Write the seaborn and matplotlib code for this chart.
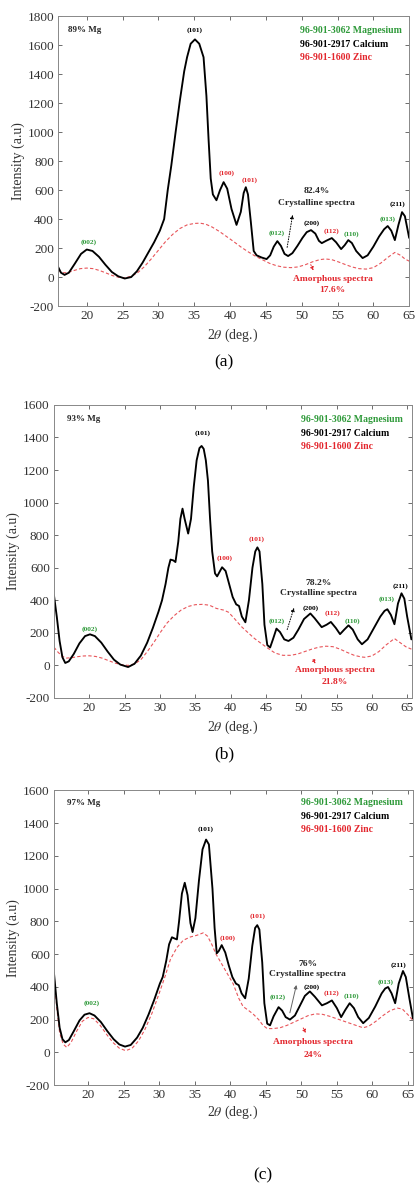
import pandas as pd
import seaborn as sns
import matplotlib.pyplot as plt

# ---------------- panel (a) 89% Mg ----------------
a_x = [16.0, 16.4, 16.9, 17.5, 18.3, 19.2, 20.0, 20.8, 21.7, 22.6, 23.5, 24.4, 25.3, 26.2, 27.0,
       27.8, 28.6, 29.4, 30.2, 30.8, 31.3, 31.8, 32.4, 33.0, 33.6, 34.0, 34.5, 35.1, 35.7, 36.3,
       36.7, 37.0, 37.3, 37.6, 38.1, 38.6, 39.1, 39.6, 40.2, 40.9, 41.5, 41.9, 42.2, 42.5,
       42.9, 43.3, 43.7, 44.4, 45.1, 45.6, 46.1, 46.6, 47.1, 47.6, 48.1, 48.7, 49.4, 50.1, 50.7,
       51.3, 51.9, 52.4, 52.8, 53.4, 54.2, 54.8, 55.5, 56.0, 56.5, 57.0, 57.6, 58.5, 59.2, 60.0,
       60.8, 61.5, 62.0, 62.5, 63.0, 63.5, 64.0, 64.4, 64.8, 65.0]
a_cryst = [70, 30, 15, 30, 90, 160, 190, 180, 140, 85, 35, 5, -10, 0, 40,
           100, 170, 240, 320, 400, 600, 770, 1000, 1220, 1420, 1517, 1610, 1640, 1610, 1517,
           1250, 950, 680, 570, 530, 600, 655, 610, 470, 360, 450, 580, 620, 570,
           380, 180, 150, 135, 124, 150, 210, 248, 215, 160, 145, 165, 215, 270, 310,
           324, 300, 250, 234, 250, 269, 240, 193, 220, 255, 235, 180, 131, 150, 210,
           280, 330, 352, 320, 255, 360, 448, 420, 320, 270]
a_amx = [16.0, 16.6, 17.3, 18.2, 19.1, 20.0, 20.9, 21.8, 22.7, 23.6, 24.5, 25.3, 26.2, 27.1, 28.0,
         29.0, 30.0, 31.0, 32.0, 33.0, 34.0, 35.0, 35.8, 36.6, 37.5, 38.5, 39.5, 40.5, 41.5, 42.5,
         43.5, 44.5, 45.5, 46.5, 47.5, 48.5, 49.5, 50.5, 51.5, 52.5, 53.3, 54.2, 55.1, 56.0, 57.0,
         58.0, 59.0, 60.0, 61.0, 62.0, 63.0, 63.8, 64.4, 65.0]
a_amor = [48, 30, 30, 45, 58, 62, 58, 45, 28, 10, -2, -5, 5, 30, 70,
          125, 185, 245, 295, 335, 360, 370, 372, 365, 345, 315, 280, 245, 208, 175,
          145, 120, 95, 78, 68, 65, 70, 85, 105, 120, 125, 120, 105, 88, 70,
          58, 55, 65, 95, 135, 170, 150, 125, 110]

# ---------------- panel (b) 93% Mg ----------------
b_x = [15.0, 15.4, 15.8, 16.2, 16.6, 17.1, 17.8, 18.6, 19.4, 20.1, 20.8, 21.7, 22.6, 23.5, 24.4,
       25.5, 26.4, 27.3, 28.2, 29.0, 29.8, 30.3, 30.8, 31.2, 31.5, 31.9, 32.2, 32.6, 32.9, 33.2,
       33.5, 34.0, 34.4, 34.8, 35.2, 35.6, 35.9, 36.2, 36.5, 36.8, 37.1, 37.4, 37.8, 38.1, 38.8,
       39.3, 39.8, 40.3, 40.8, 41.2, 41.6, 42.1, 42.6, 43.1, 43.5, 43.8, 44.1, 44.5, 44.8, 45.2,
       45.6, 46.0, 46.5, 47.0, 47.6, 48.2, 48.9, 49.6, 50.4, 51.3, 51.9, 52.9, 53.6, 54.2, 54.9,
       55.5, 56.1, 56.7, 57.3, 58.0, 58.6, 59.4, 60.3, 61.2, 61.8, 62.2, 62.7, 63.2, 63.7, 64.2,
       64.6, 65.0, 65.6]
b_cryst = [431, 300, 150, 50, 15, 25, 70, 135, 180, 191, 180, 140, 85, 35, 5,
           -10, 10, 60, 140, 230, 330, 400, 500, 600, 650, 645, 635, 760, 900, 963,
           900, 810, 900, 1100, 1260, 1335, 1348, 1330, 1260, 1135, 900, 700, 565, 547, 603,
           580, 500, 420, 375, 365, 300, 265, 400, 600, 700, 725, 700, 500, 250, 125,
           110, 160, 226, 205, 160, 150, 170, 220, 285, 319, 290, 235, 250, 267, 230,
           192, 220, 246, 220, 160, 130, 160, 230, 300, 335, 345, 310, 253, 380, 443,
           410, 300, 160]
b_amx = [15.0, 15.6, 16.2, 16.8, 17.6, 18.4, 19.2, 20.0, 20.9, 21.8, 22.7, 23.6, 24.5, 25.5, 26.5,
         27.4, 28.3, 29.2, 30.1, 31.0, 32.0, 33.0, 34.0, 35.0, 36.0, 37.0, 38.0, 39.0, 39.7, 40.5,
         41.5, 42.5, 43.4, 44.3, 45.3, 46.3, 47.4, 48.5, 49.5, 50.5, 51.5, 52.5, 53.5, 54.5, 55.5,
         56.5, 57.5, 58.5, 59.0, 60.0, 61.0, 62.0, 63.2, 64.0, 64.8, 65.6]
b_amor = [112, 80, 55, 45, 48, 54, 58, 59, 55, 45, 30, 15, 5, 0, 10,
          40, 90, 145, 205, 260, 305, 340, 362, 373, 375, 370, 350, 340, 327, 290,
          240, 200, 165, 136, 105, 76, 62, 62, 70, 85, 100, 112, 118, 115, 100,
          80, 62, 52, 50, 58, 85, 125, 165, 140, 115, 100]

# ---------------- panel (c) 97% Mg ----------------
c_x = [15.2, 15.6, 16.0, 16.4, 16.8, 17.3, 18.0, 18.8, 19.5, 20.2, 20.9, 21.8, 22.7, 23.6, 24.4,
       25.2, 26.0, 26.9, 27.7, 28.5, 29.3, 30.1, 30.5, 31.0, 31.4, 31.8, 32.2, 32.5, 32.8, 33.2,
       33.6, 34.0, 34.4, 34.7, 35.1, 35.6, 36.1, 36.6, 37.0, 37.5, 37.8, 38.1, 38.4, 38.8, 39.3,
       39.8, 40.3, 40.8, 41.2, 41.6, 42.1, 42.6, 43.1, 43.5, 43.8, 44.1, 44.5, 44.8, 45.2, 45.6,
       46.1, 46.8, 47.3, 47.8, 48.4, 49.1, 49.8, 50.5, 51.2, 51.9, 52.9, 53.6, 54.3, 55.0, 55.6,
       56.2, 56.8, 57.4, 58.0, 58.7, 59.5, 60.4, 61.3, 61.8, 62.2, 62.7, 63.2, 63.7, 64.3, 64.7,
       65.2, 65.7]
c_cryst = [485, 300, 150, 80, 61, 75, 130, 195, 230, 239, 225, 185, 130, 80, 48,
           35, 45, 90, 150, 230, 320, 420, 460, 560, 660, 703, 695, 690, 800, 970,
           1036, 960, 790, 735, 820, 1050, 1240, 1300, 1270, 1000, 760, 605, 620, 655, 610,
           530, 460, 420, 410, 360, 330, 450, 650, 760, 777, 750, 550, 300, 175, 165,
           220, 276, 255, 215, 200, 225, 285, 345, 372, 340, 287, 300, 317, 270, 215,
           260, 300, 270, 215, 178, 210, 280, 360, 390, 399, 360, 300, 420, 497, 460,
           330, 207]
c_amx = [15.2, 15.6, 16.0, 16.5, 17.0, 17.6, 18.4, 19.2, 20.0, 20.8, 21.7, 22.6, 23.5, 24.4, 25.3,
         26.2, 27.1, 28.0, 29.0, 30.0, 30.8, 31.6, 32.5, 33.4, 34.4, 35.3, 36.2, 36.8, 37.4, 38.0,
         38.8, 39.6, 40.4, 41.2, 41.8, 42.6, 43.2, 44.0, 44.6, 45.2, 46.0, 47.0, 48.0, 49.0, 50.0,
         51.0, 52.0, 53.0, 54.0, 55.0, 56.0, 57.0, 58.0, 58.7, 59.5, 60.5, 61.5, 62.5, 63.5, 64.2,
         65.0, 65.7]
c_amor = [480, 270, 120, 50, 30, 60, 130, 190, 213, 205, 165, 110, 60, 25, 10,
          25, 70, 140, 240, 360, 460, 570, 640, 685, 705, 715, 730, 710, 660, 600,
          540, 480, 420, 330, 280, 255, 235, 200, 165, 145, 145, 150, 165, 185, 205,
          225, 235, 232, 220, 205, 190, 175, 160, 150, 160, 190, 225, 255, 270, 265,
          230, 195]

# reflection labels (same set in every panel)
hkl = ["(002)", "(101)", "(100)", "(101)", "(012)", "(200)", "(112)", "(110)", "(013)", "(211)"]
phase = ["Mg", "Ca", "Zn", "Zn", "Mg", "Ca", "Zn", "Mg", "Mg", "Ca"]
a_hx = [20.3, 35.0, 39.5, 42.7, 46.5, 51.4, 54.2, 56.9, 62.0, 63.4]
a_hy = [241, 1703, 717, 669, 303, 372, 317, 296, 400, 503]
b_hx = [20.1, 36.0, 39.2, 43.7, 46.6, 51.3, 54.4, 57.3, 62.1, 64.0]
b_hy = [222, 1429, 657, 773, 271, 351, 320, 271, 406, 486]
c_hx = [20.5, 36.6, 39.6, 43.8, 46.7, 51.4, 54.3, 57.1, 61.9, 63.7]
c_hy = [299, 1365, 698, 832, 336, 397, 360, 342, 428, 532]

ref_cards = ["96-901-3062 Magnesium", "96-901-2917 Calcium", "96-901-1600 Zinc"]
samples = ["89% Mg", "93% Mg", "97% Mg"]
cryst_pct = ["82.4%", "78.2%", "76%"]
amor_pct = ["17.6%", "21.8%", "24%"]
panel_tags = ["(a)", "(b)", "(c)"]

GREEN = "#2f9a3a"
RED = "#e3262d"
col = {"Mg": GREEN, "Ca": "black", "Zn": RED}

sns.set_style("ticks")
plt.rcParams["font.family"] = ["Liberation Serif", "DejaVu Serif"]
plt.rcParams["mathtext.fontset"] = "stix"
plt.rcParams["axes.unicode_minus"] = False

fig = plt.figure(figsize=(4.15, 11.83), dpi=100)

panels = [
    dict(rect=[0.140, 0.7413, 0.846, 0.245], xlim=(16, 65), ylim=(-200, 1800),
         x=a_x, y=a_cryst, ax_=a_amx, ay=a_amor, hx=a_hx, hy=a_hy,
         samp=(17.4, 1703), leg=(49.7, [1703, 1607, 1517]),
         cp=(52.1, 593, 510), arrow_c=((47.9, 186), (48.8, 448)),
         am=(54.3, -14, -90), arrow_a=((51.1, 103), (51.8, 28)),
         tag=(224, 362), xlab=335),
    dict(rect=[0.130, 0.410, 0.863, 0.2477], xlim=(15, 65.7), ylim=(-200, 1600),
         x=b_x, y=b_cryst, ax_=b_amx, ay=b_amor, hx=b_hx, hy=b_hy,
         samp=(16.9, 1513), leg=(50.0, [1509, 1424, 1345]),
         cp=(52.4, 505, 443), arrow_c=((47.9, 204), (49.1, 370)),
         am=(54.8, -28, -102), arrow_a=((51.5, 52), (52.2, -5)),
         tag=(224, 754), xlab=727),
    dict(rect=[0.130, 0.0828, 0.865, 0.249], xlim=(15.2, 65.7), ylim=(-200, 1600),
         x=c_x, y=c_cryst, ax_=c_amx, ay=c_amor, hx=c_hx, hy=c_hy,
         samp=(17.0, 1525), leg=(50.0, [1525, 1440, 1360]),
         cp=(50.9, 538, 477), arrow_c=((48.3, 225), (49.4, 428)),
         am=(51.7, 60, -14), arrow_a=((50.1, 164), (50.8, 102)),
         tag=(263, 1175), xlab=1112),
]

H = 1183.0
for i, p in enumerate(panels):
    ax = fig.add_axes(p["rect"])
    df_c = pd.DataFrame({"two_theta": p["x"], "intensity": p["y"]})
    df_a = pd.DataFrame({"two_theta": p["ax_"], "intensity": p["ay"]})
    sns.lineplot(data=df_a, x="two_theta", y="intensity", ax=ax, color="#e8555a",
                 lw=0.8, linestyle=(0, (3, 2)), sort=False)
    sns.lineplot(data=df_c, x="two_theta", y="intensity", ax=ax, color="black",
                 lw=1.35, sort=False)
    ax.set_xlim(*p["xlim"])
    ax.set_ylim(*p["ylim"])
    ax.set_xticks(range(20, 66, 5))
    ax.set_yticks(range(p["ylim"][0], p["ylim"][1] + 1, 200))
    ax.tick_params(direction="in", top=True, right=True, length=3, width=0.6,
                   labelsize=9.5, colors="#555555", labelcolor="#333333", pad=3)
    for s in ax.spines.values():
        s.set_color("#888888")
        s.set_linewidth(0.7)
    ax.set_ylabel("Intensity (a.u)", fontsize=10, color="#333333", labelpad=2)
    ax.set_xlabel("")

    # x label and panel tag in figure pixels
    fig.text(233 / 415, 1 - p["xlab"] / H, r"2$\theta$ (deg.)", ha="center", va="center",
             fontsize=10, color="#333333")
    fig.text(p["tag"][0] / 415, 1 - p["tag"][1] / H, panel_tags[i], ha="center", va="center",
             fontsize=12.5, color="black")

    # sample name
    ax.text(p["samp"][0], p["samp"][1], samples[i], fontsize=6.5, fontweight="bold",
            ha="left", va="center")
    # reference cards legend
    for name, yy, c in zip(ref_cards, p["leg"][1], [GREEN, "black", RED]):
        ax.text(p["leg"][0], yy, name, fontsize=7, fontweight="bold", color=c,
                ha="left", va="center")
    # reflections
    for t, ph, xx, yy in zip(hkl, phase, p["hx"], p["hy"]):
        ax.text(xx, yy, t, fontsize=5.3, fontweight="bold", color=col[ph],
                ha="center", va="center")

    # crystalline label
    ax.text(p["cp"][0], p["cp"][1], cryst_pct[i], fontsize=6.8, fontweight="bold",
            ha="center", va="center")
    ax.text(p["cp"][0], p["cp"][2], "Crystalline spectra", fontsize=6.8, fontweight="bold",
            ha="center", va="center")
    c_arrow = "#666666" if i == 2 else "black"
    ax.annotate("", xy=p["arrow_c"][1], xytext=p["arrow_c"][0],
                arrowprops=dict(arrowstyle="-|>", color=c_arrow, lw=0.7,
                                linestyle="-" if i == 2 else ":", mutation_scale=5))
    # amorphous label
    ax.text(p["am"][0], p["am"][1], "Amorphous spectra", fontsize=6.8, fontweight="bold",
            color=RED, ha="center", va="center")
    ax.text(p["am"][0], p["am"][2], amor_pct[i], fontsize=6.8, fontweight="bold",
            color=RED, ha="center", va="center")
    ax.annotate("", xy=p["arrow_a"][1], xytext=p["arrow_a"][0],
                arrowprops=dict(arrowstyle="-|>", color=RED, lw=0.7, linestyle=":",
                                mutation_scale=5))

fig.savefig("out.png", dpi=100)
